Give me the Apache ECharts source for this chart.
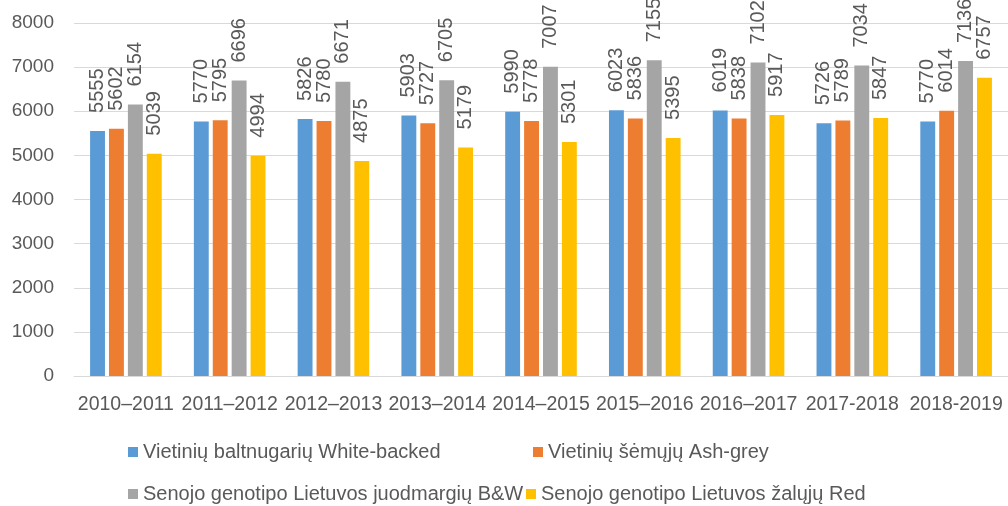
<!DOCTYPE html>
<html>
<head>
<meta charset="utf-8">
<script src="https://cdn.jsdelivr.net/npm/echarts@6/dist/echarts.min.js"></script>
<style>
html, body { margin: 0; padding: 0; background: #fff; }
#main { width: 1008px; height: 506px; }
</style>
</head>
<body>
<div id="main"></div>
<script>
var years = ['2010–2011', '2011–2012', '2012–2013', '2013–2014', '2014–2015', '2015–2016', '2016–2017', '2017-2018', '2018-2019'];
var names = ['Vietinių baltnugarių White-backed', 'Vietinių šėmųjų Ash-grey', 'Senojo genotipo Lietuvos juodmargių B&W', 'Senojo genotipo Lietuvos žalųjų Red'];
var whiteBacked = [5555, 5770, 5826, 5903, 5990, 6023, 6019, 5726, 5770];
var ashGrey = [5602, 5795, 5780, 5727, 5778, 5836, 5838, 5789, 6014];
var blackWhite = [6154, 6696, 6671, 6705, 7007, 7155, 7102, 7034, 7136];
var red = [5039, 4994, 4875, 5179, 5301, 5395, 5917, 5847, 6757];
var yTicks = [0, 8000, 1000];

var colors = ['#5B9BD5', '#ED7D31', '#A5A5A5', '#FFC000'];
var txt = '#595959';
var font = 'Liberation Sans';

var myChart = echarts.init(document.getElementById('main'));

function mkSeries(i, data) {
    return {
        name: names[i],
        type: 'bar',
        data: data,
        barGap: '27%',
        barCategoryGap: '31%',
        itemStyle: { color: colors[i] },
        label: {
            show: true,
            position: 'top',
            rotate: 90,
            align: 'left',
            verticalAlign: 'middle',
            distance: 18,
            color: txt,
            fontFamily: font,
            fontSize: 20
        }
    };
}

function mkLegend(i, left, top) {
    return {
        data: [names[i]],
        left: left,
        top: top,
        icon: 'rect',
        itemWidth: 10,
        itemHeight: 10,
        padding: 0,
        textStyle: { color: txt, fontFamily: font, fontSize: 20 }
    };
}

var option = {
    animation: false,
    color: colors,
    grid: { left: 74, right: -4, top: 23, bottom: 130 },
    legend: [
        mkLegend(0, 128, 442),
        mkLegend(1, 533, 442),
        mkLegend(2, 128, 484),
        mkLegend(3, 526, 484)
    ],
    xAxis: {
        type: 'category',
        data: years,
        axisLine: { show: true, lineStyle: { color: '#d9d9d9' } },
        axisTick: { show: false },
        axisLabel: { color: txt, fontFamily: font, fontSize: 19.5, margin: 19, interval: 0 }
    },
    yAxis: {
        type: 'value',
        min: yTicks[0],
        max: yTicks[1],
        interval: yTicks[2],
        axisLine: { show: false },
        axisTick: { show: false },
        axisLabel: {
            color: txt, fontFamily: font, fontSize: 19, margin: 20,
            formatter: function (v) { return String(v); }
        },
        splitLine: { lineStyle: { color: '#d9d9d9', width: 1 } }
    },
    series: [
        mkSeries(0, whiteBacked),
        mkSeries(1, ashGrey),
        mkSeries(2, blackWhite),
        mkSeries(3, red)
    ]
};
myChart.setOption(option);
window.onresize = myChart.resize;
</script>
</body>
</html>
